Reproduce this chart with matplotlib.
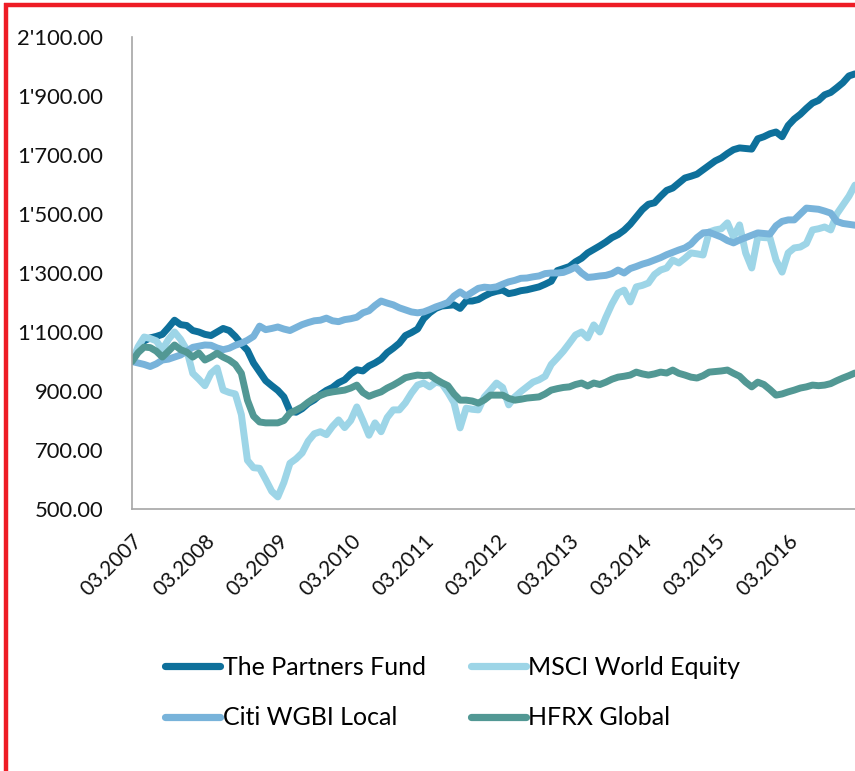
import matplotlib
matplotlib.use("Agg")
import matplotlib.pyplot as plt
from matplotlib.ticker import FuncFormatter, FixedLocator
from matplotlib.lines import Line2D

plt.rcParams['font.family'] = ['Lato', 'DejaVu Sans']

# ---- data (monthly, 03.2007 .. 02.2017) ----
tick_labels = ["03.2007", "03.2008", "03.2009", "03.2010", "03.2011",
               "03.2012", "03.2013", "03.2014", "03.2015", "03.2016"]

partners = [1000, 1040, 1070, 1080, 1085, 1092, 1115, 1140, 1125, 1122,
            1105, 1100, 1092, 1088, 1100, 1112, 1105, 1085, 1060, 1038,
            995, 965, 935, 918, 902, 880, 832, 828, 840, 858,
            870, 888, 902, 912, 928, 938, 958, 972, 968, 985,
            995, 1008, 1030, 1045, 1062, 1088, 1098, 1110, 1145, 1165,
            1180, 1188, 1190, 1192, 1180, 1205, 1205, 1210, 1222, 1232,
            1238, 1242, 1230, 1234, 1240, 1243, 1248, 1253, 1262, 1272,
            1308, 1315, 1322, 1338, 1350, 1368, 1380, 1392, 1405, 1420,
            1430, 1445, 1465, 1490, 1515, 1533, 1538, 1560, 1580, 1588,
            1605, 1622, 1628, 1635, 1650, 1665, 1680, 1690, 1705, 1718,
            1724, 1722, 1720, 1755, 1762, 1772, 1778, 1762, 1800, 1822,
            1838, 1858, 1876, 1885, 1904, 1912, 1928, 1945, 1968, 1975]

msci = [1000, 1050, 1083, 1078, 1070, 1040, 1075, 1100, 1075, 1040,
        960, 940, 918, 960, 978, 903, 895, 890, 820, 665,
        640, 638, 600, 560, 541, 590, 655, 670, 690, 730,
        755, 762, 752, 780, 802, 776, 800, 846, 800, 750,
        792, 762, 810, 836, 836, 860, 893, 920, 927, 914,
        930, 925, 895, 860, 775, 842, 838, 836, 880, 903,
        927, 912, 853, 880, 898, 914, 930, 938, 950, 990,
        1012, 1035, 1062, 1090, 1100, 1080, 1124, 1100, 1150, 1195,
        1232, 1242, 1202, 1253, 1258, 1266, 1295, 1310, 1317, 1344,
        1334, 1350, 1368, 1365, 1361, 1439, 1446, 1450, 1470, 1422,
        1463, 1368, 1317, 1422, 1420, 1419, 1344, 1303, 1368, 1385,
        1388, 1400, 1446, 1450, 1456, 1446, 1500, 1530, 1560, 1598]

citi = [1000, 995, 990, 983, 992, 1005, 1008, 1015, 1022, 1035,
        1048, 1052, 1056, 1055, 1046, 1040, 1045, 1055, 1062, 1072,
        1085, 1120, 1108, 1112, 1117, 1110, 1105, 1115, 1125, 1132,
        1138, 1140, 1147, 1138, 1135, 1142, 1145, 1150, 1165, 1172,
        1190, 1205, 1198, 1192, 1182, 1175, 1168, 1165, 1168, 1176,
        1185, 1192, 1200, 1222, 1236, 1222, 1235, 1248, 1252, 1250,
        1253, 1262, 1270, 1275, 1282, 1283, 1287, 1290, 1298, 1300,
        1300, 1302, 1310, 1320, 1300, 1285, 1287, 1290, 1292, 1298,
        1310, 1300, 1315, 1322, 1330, 1336, 1344, 1352, 1362, 1370,
        1378, 1385, 1398, 1420, 1436, 1438, 1430, 1422, 1410, 1402,
        1412, 1420, 1428, 1436, 1434, 1432, 1460, 1475, 1480, 1480,
        1500, 1520, 1518, 1516, 1510, 1503, 1475, 1468, 1465, 1462]

hfrx = [1000, 1030, 1049, 1047, 1035, 1015, 1035, 1056, 1040, 1032,
        1015, 1029, 1005, 1015, 1028, 1015, 1005, 990, 960, 869,
        815, 795, 792, 792, 792, 800, 825, 835, 846, 862,
        876, 885, 893, 897, 900, 903, 910, 920, 895, 882,
        890, 897, 910, 920, 932, 945, 950, 954, 952, 954,
        940, 928, 918, 890, 869, 869, 866, 859, 870, 886,
        886, 886, 875, 869, 872, 876, 878, 880, 890, 903,
        908, 912, 914, 922, 927, 917, 927, 922, 930, 940,
        947, 950, 954, 964, 958, 954, 958, 964, 961, 971,
        960, 954, 947, 944, 952, 964, 966, 968, 971, 960,
        950, 930, 914, 930, 922, 905, 886, 890, 897, 903,
        910, 914, 920, 918, 920, 925, 935, 944, 952, 961]

series_names = ["The Partners Fund", "MSCI World Equity", "Citi WGBI Local", "HFRX Global"]
series_values = [partners, msci, citi, hfrx]
series_colors = ["#0E709B", "#9DD5E7", "#78B3DA", "#529894"]

# ---- figure ----
W, H, DPI = 855, 771, 100
PX2PT = 72.0 / DPI
fig = plt.figure(figsize=(W / DPI, H / DPI), dpi=DPI)
fig.patch.set_facecolor("white")

ax_left = 132 / W
ax_bottom = (H - 509) / H
ax_top = (H - 37) / H
ax = fig.add_axes([ax_left, ax_bottom, 1.0 - ax_left, ax_top - ax_bottom])

x = list(range(len(partners)))
handles = []
for name, vals, col in zip(series_names, series_values, series_colors):
    ln, = ax.plot(x, vals, color=col, lw=5.0, solid_joinstyle="round",
                  solid_capstyle="round", label=name)
    handles.append(ln)

ax.set_xlim(0, len(partners) - 1)
ax.set_ylim(500, 2100)
ax.set_yticks(range(500, 2101, 200))
ax.yaxis.set_major_formatter(FuncFormatter(lambda v, p: "{:,.2f}".format(v).replace(",", "'")))
ax.xaxis.set_major_locator(FixedLocator([12 * i for i in range(len(tick_labels))]))
ax.set_xticklabels(tick_labels, rotation=45, ha="right", rotation_mode="anchor")

ax.tick_params(axis="y", length=0, pad=29 * PX2PT, labelsize=15.5, labelcolor="#111111")
ax.tick_params(axis="x", length=0, pad=16, labelsize=15, labelcolor="#111111")

for s in ("top", "right"):
    ax.spines[s].set_visible(False)
for s in ("left", "bottom"):
    ax.spines[s].set_color("#A6A6A6")
    ax.spines[s].set_linewidth(1.2)
ax.set_facecolor("white")

# fit y tick label size to the reference width ("1'900.00" ~ 85 px wide)
fig.canvas.draw()
r = fig.canvas.get_renderer()
ylabs = ax.get_yticklabels()
w = max(t.get_window_extent(r).width for t in ylabs)
size = 15.5 * 86.0 / w
size = max(12.5, min(size, 17.0))
ax.tick_params(axis="y", labelsize=size)

# legend (row-wise order: Partners, MSCI / Citi, HFRX)
order = [0, 2, 1, 3]
leg = fig.legend(handles=[handles[i] for i in order],
                 labels=[series_names[i] for i in order], ncol=2, loc="center left",
                 bbox_to_anchor=(152 / W, (H - 692.5) / H),
                 frameon=False, fontsize=18, handlelength=2.2, handletextpad=0.12,
                 columnspacing=1.8, labelspacing=1.1, borderpad=0)
for lh in leg.get_lines():
    lh.set_linewidth(5.2)
    lh.set_solid_capstyle("round")

# red border (left and top)
red = "#EE1C25"
fig.add_artist(Line2D([6 / W, 6 / W], [0, (H - 3.3) / H], transform=fig.transFigure,
                      color=red, lw=3.2, solid_capstyle="butt"))
fig.add_artist(Line2D([4 / W, 1.0], [(H - 5) / H, (H - 5) / H], transform=fig.transFigure,
                      color=red, lw=3.2, solid_capstyle="butt"))

fig.savefig("out.png", dpi=DPI, facecolor="white")
